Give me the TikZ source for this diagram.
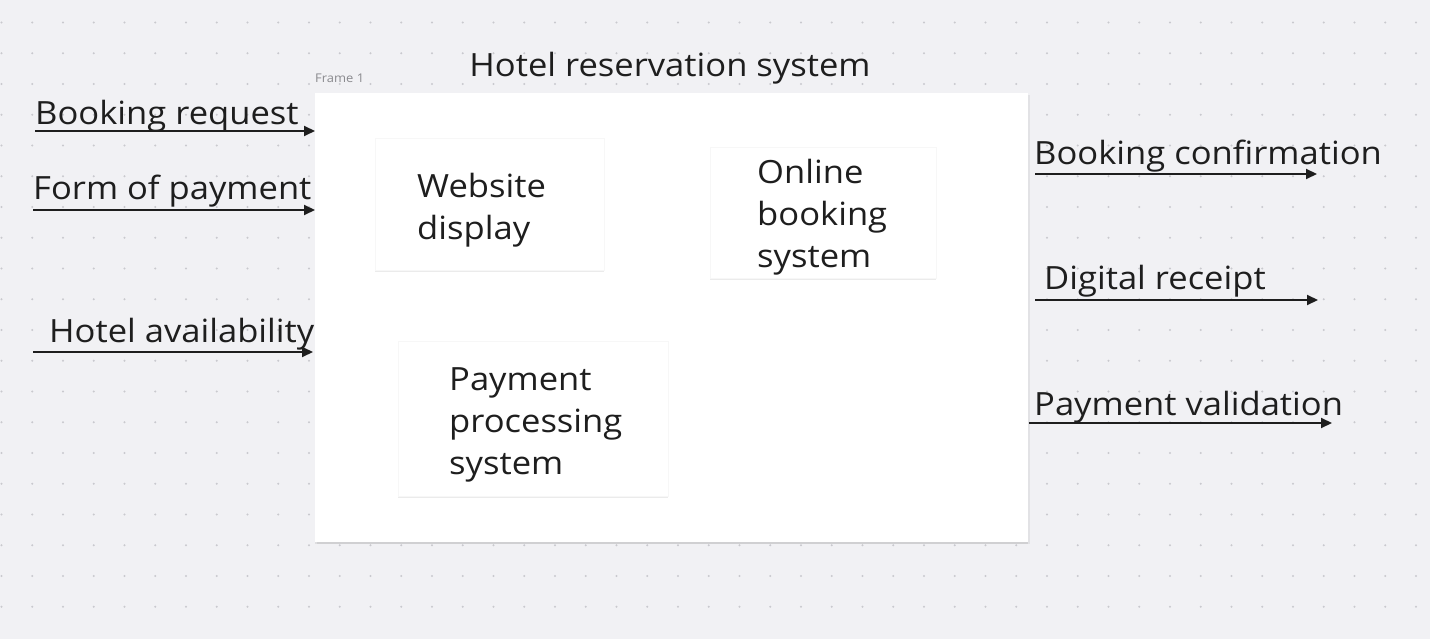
\documentclass[tikz,border=0pt]{standalone}
\usepackage{fontspec}
\setmainfont{Open Sans}[FakeStretch=1.08]
\usetikzlibrary{arrows.meta,shadows}
\definecolor{bg}{HTML}{F1F1F4}
\definecolor{dotc}{HTML}{C9C9CE}
\definecolor{ink}{HTML}{1E1E1E}
\definecolor{framelbl}{HTML}{8A8A8E}
\tikzset{
  lbl/.style={anchor=base west, inner sep=0pt, text=ink, font=\fontsize{32}{42}\selectfont},
  card/.style={fill=white, draw=black!3, line width=0.8pt, anchor=north west, inner sep=0pt,
    drop shadow={shadow xshift=0pt, shadow yshift=-1.5pt, fill=black, opacity=0.08}},
  flow/.style={draw=ink, line width=2pt, -{Triangle[length=11pt,width=10pt]}},
}
\begin{document}
\begin{tikzpicture}[x=1pt,y=-1pt]
\fill[bg] (0,0) rectangle (1430,639);
\useasboundingbox (0,0) rectangle (1430,639);
\foreach \i in {0,...,46} \foreach \j in {0,...,19}
  \fill[dotc] (1.5+30.75*\i, 22.5+30.75*\j) circle (1.1pt);

% frame
\node[card, draw=none, minimum width=713pt, minimum height=449pt,
  drop shadow={shadow xshift=1.5pt, shadow yshift=-1.5pt, fill=black, opacity=0.06}] (frame) at (315,93) {};
\node[anchor=base west, inner sep=0pt, text=framelbl, font=\fontsize{12}{14}\selectfont] (framelabel) at (315,83) {Frame 1};
\node[lbl, anchor=base] (title) at (670,77) {Hotel reservation system};

% cards
\node[card, minimum width=229pt, minimum height=132pt] (c1) at (375,138) {};
\node[lbl, align=left] (t1) at (417,240) {Website\\display};
\node[card, minimum width=226pt, minimum height=131pt] (c2) at (710,147) {};
\node[lbl, align=left] (t2) at (757,267) {Online\\booking\\system};
\node[card, minimum width=270pt, minimum height=155pt] (c3) at (398,341) {};
\node[lbl, align=left] (t3) at (449,474) {Payment\\processing\\system};

% inputs
\node[lbl] (l1) at (35,125) {Booking request};
\coordinate (i1) at (35,131);
\draw[flow] (i1) -- (i1 -| frame.west);
\node[lbl] (l2) at (33,200) {Form of payment};
\coordinate (i2) at (33,210);
\draw[flow] (i2) -- (i2 -| frame.west);
\node[lbl] (l3) at (49,342) {Hotel availability};
\coordinate (i3) at (33,352);
\coordinate (i3e) at (313,352);
\draw[flow] (i3) -- (i3e);

% outputs
\node[lbl] (o1l) at (1034,165) {Booking confirmation};
\coordinate (o1s) at (1035,174);
\coordinate (o1e) at (1317,174);
\draw[flow] (o1s) -- (o1e);
\node[lbl] (o2l) at (1044,290) {Digital receipt};
\coordinate (o2s) at (1035,300);
\coordinate (o2e) at (1318,300);
\draw[flow] (o2s) -- (o2e);
\node[lbl] (o3l) at (1034,415) {Payment validation};
\coordinate (o3e) at (1332,423);
\draw[flow] (o3e -| frame.east) -- (o3e);
\end{tikzpicture}
\end{document}
